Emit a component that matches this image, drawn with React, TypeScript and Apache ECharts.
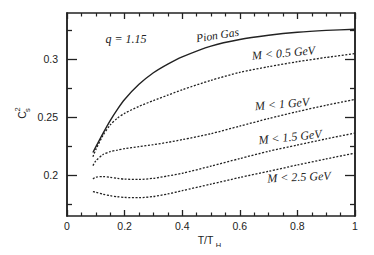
import React, { useEffect, useRef } from "react";
import * as echarts from "echarts";

const T = [0.09, 0.1, 0.125, 0.15, 0.175, 0.2, 0.25, 0.3, 0.35, 0.4, 0.5, 0.6, 0.7, 0.8, 0.9, 1.0];
const pionGas = [0.2197, 0.2246, 0.2363, 0.2473, 0.257, 0.2655, 0.2785, 0.2885, 0.296, 0.3022, 0.3115, 0.3172, 0.3208, 0.3234, 0.325, 0.326];
const m05 = [0.216, 0.2222, 0.2345, 0.2435, 0.2493, 0.2535, 0.2595, 0.2645, 0.2692, 0.2738, 0.282, 0.2888, 0.2937, 0.298, 0.3017, 0.305];
const m1 = [0.2084, 0.2125, 0.218, 0.2205, 0.2218, 0.223, 0.2248, 0.2265, 0.2285, 0.2308, 0.236, 0.2425, 0.249, 0.255, 0.2605, 0.2655];
const m15 = [0.197, 0.1985, 0.199, 0.1983, 0.1975, 0.1968, 0.1965, 0.1975, 0.1995, 0.2018, 0.208, 0.2145, 0.2208, 0.2262, 0.2315, 0.2365];
const m25 = [0.1861, 0.1855, 0.1838, 0.1825, 0.1816, 0.181, 0.1808, 0.1818, 0.184, 0.1868, 0.1925, 0.1982, 0.2035, 0.209, 0.2142, 0.2192];

const yMajor = [0.2, 0.25, 0.3];
const yMinor = [0.175, 0.225, 0.275, 0.325];

const INK = "#222";

export default function App() {
  const ref = useRef<HTMLDivElement>(null);
  useEffect(() => {
    if (!ref.current) return;
    const chart = echarts.init(ref.current, null, { renderer: "svg" });
    const pair = (ys: number[]) => T.map((t, i) => [t, ys[i]]);
    const lineSeries = (name: string, ys: number[], dotted: boolean) => ({
      name,
      type: "line",
      data: pair(ys),
      smooth: 0.25,
      showSymbol: false,
      symbol: "none",
      lineStyle: { color: INK, width: dotted ? 1.3 : 1.4, type: dotted ? [2, 1.6] : "solid" },
      xAxisIndex: 0,
      yAxisIndex: 0,
    });
    const yBase = (position: "left" | "right", values: number[], len: number, labels: boolean) => ({
      type: "value",
      position,
      min: 0.165,
      max: 0.34,
      axisLine: { show: true, lineStyle: { color: INK, width: 1.5 } },
      axisTick: { show: true, inside: true, length: len, customValues: values, lineStyle: { color: INK, width: 1.3 } },
      axisLabel: labels
        ? { show: true, customValues: values, color: INK, fontSize: 10.5, fontFamily: "Liberation Sans", margin: 9 }
        : { show: false },
      splitLine: { show: false },
    });
    const xBase = (position: "bottom" | "top", labels: boolean) => ({
      type: "value",
      position,
      min: 0,
      max: 1,
      interval: 0.2,
      axisLine: { show: true, lineStyle: { color: INK, width: 1.5 } },
      axisTick: { show: true, inside: true, length: 6, lineStyle: { color: INK, width: 1.3 } },
      minorTick: { show: true, splitNumber: 4, length: 3.5, lineStyle: { color: INK, width: 1.2 } },
      axisLabel: labels
        ? { show: true, color: INK, fontSize: 10.5, fontFamily: "Liberation Sans", margin: 4 }
        : { show: false },
      splitLine: { show: false },
      minorSplitLine: { show: false },
    });
    const serif = (text: string, x: number, y: number, deg: number, size = 12) => ({
      type: "text",
      x,
      y,
      rotation: (deg * Math.PI) / 180,
      style: {
        text,
        fill: INK,
        font: `italic ${size}px "Liberation Serif"`,
        textAlign: "center",
        textVerticalAlign: "middle",
      },
    });
    const sans = (text: string, x: number, y: number, size: number, rot = 0) => ({
      type: "text",
      x,
      y,
      rotation: rot,
      style: {
        text,
        fill: INK,
        font: `${size}px "Liberation Sans"`,
        textAlign: "center",
        textVerticalAlign: "middle",
      },
    });
    chart.setOption({
      animation: false,
      grid: { left: 67, right: 19, top: 13, bottom: 39 },
      xAxis: [xBase("bottom", true), xBase("top", false)],
      yAxis: [
        yBase("left", yMajor, 10, true),
        yBase("left", yMinor, 5, false),
        yBase("right", yMajor, 10, false),
        yBase("right", yMinor, 5, false),
      ],
      series: [
        lineSeries("Pion Gas", pionGas, false),
        lineSeries("M < 0.5 GeV", m05, true),
        lineSeries("M < 1 GeV", m1, true),
        lineSeries("M < 1.5 GeV", m15, true),
        lineSeries("M < 2.5 GeV", m25, true),
      ],
      graphic: [
        serif("q = 1.15", 126, 39, 0, 12),
        serif("Pion Gas", 217.5, 35, 9, 11.5),
        serif("M < 0.5 GeV", 283.5, 53, 5),
        serif("M < 1 GeV", 282, 104, 5),
        serif("M < 1.5 GeV", 290, 137, 6),
        serif("M < 2.5 GeV", 299, 177, 2.5),
        sans("C", 21.5, 115, 10.5, Math.PI / 2),
        sans("2", 17.5, 109.5, 7.5, Math.PI / 2),
        sans("s", 27, 110, 7.5, Math.PI / 2),
        sans("T/T", 205.5, 240, 10.5),
        sans("H", 218.5, 245, 7.5),
      ],
    });
    return () => chart.dispose();
  }, []);
  return <div ref={ref} style={{ width: 374, height: 255, margin: -8 }} />;
}
